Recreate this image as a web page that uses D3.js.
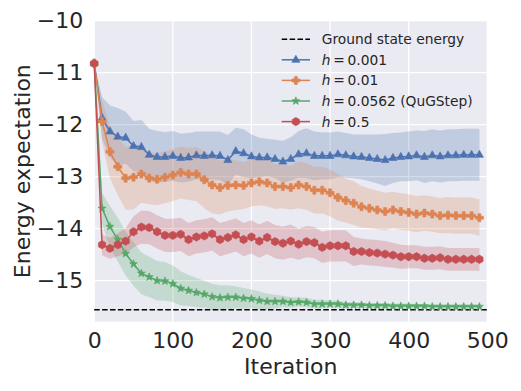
<!DOCTYPE html>
<html>
<head>
<meta charset="utf-8">
<style>
body { margin: 0; background: #fff; }
svg text { font-family: "DejaVu Sans", sans-serif; fill: #262626; }
</style>
</head>
<body>
<svg width="521" height="391"></svg>
<script src="https://d3js.org/d3.v7.min.js"></script>
<script>

// data
var iterations = [0,10,20,30,40,50,60,70,80,90,100,110,120,130,140,150,160,170,180,190,
  200,210,220,230,240,250,260,270,280,290,300,310,320,330,340,350,360,370,380,390,
  400,410,420,430,440,450,460,470,480,490];

var meanH001 = [-10.82,-11.87,-12.13,-12.23,-12.25,-12.41,-12.43,-12.58,-12.62,-12.62,
  -12.60,-12.64,-12.63,-12.59,-12.60,-12.59,-12.60,-12.68,-12.51,-12.55,
  -12.61,-12.63,-12.63,-12.66,-12.71,-12.66,-12.57,-12.55,-12.60,-12.60,
  -12.60,-12.57,-12.59,-12.61,-12.62,-12.64,-12.66,-12.68,-12.64,-12.62,
  -12.61,-12.59,-12.62,-12.59,-12.61,-12.59,-12.59,-12.58,-12.58,-12.58];
var stdH001 = [0,0.40,0.50,0.55,0.50,0.48,0.52,0.50,0.50,0.48,
  0.48,0.47,0.47,0.46,0.47,0.46,0.47,0.48,0.45,0.46,
  0.42,0.38,0.36,0.37,0.40,0.42,0.45,0.48,0.47,0.45,
  0.45,0.44,0.43,0.42,0.43,0.45,0.47,0.50,0.48,0.47,
  0.48,0.48,0.50,0.50,0.50,0.50,0.50,0.50,0.50,0.50];

var meanH01 = [-10.82,-11.94,-12.52,-12.81,-13.03,-13.01,-12.95,-13.03,-13.05,-13.01,
  -12.97,-12.92,-12.95,-12.95,-13.06,-13.16,-13.21,-13.17,-13.16,-13.17,
  -13.12,-13.10,-13.12,-13.19,-13.19,-13.21,-13.16,-13.19,-13.26,-13.26,
  -13.31,-13.40,-13.46,-13.51,-13.58,-13.61,-13.64,-13.67,-13.64,-13.67,
  -13.69,-13.72,-13.70,-13.72,-13.75,-13.74,-13.75,-13.75,-13.75,-13.79];
var stdH01 = [0,0.40,0.50,0.55,0.60,0.62,0.55,0.50,0.50,0.50,
  0.50,0.50,0.50,0.52,0.55,0.55,0.52,0.50,0.48,0.45,
  0.45,0.45,0.45,0.43,0.42,0.42,0.45,0.45,0.45,0.45,
  0.45,0.45,0.42,0.42,0.40,0.38,0.37,0.36,0.35,0.35,
  0.35,0.35,0.34,0.34,0.34,0.35,0.35,0.35,0.35,0.35];

var meanH0562 = [-10.82,-13.61,-13.96,-14.21,-14.48,-14.68,-14.86,-14.93,-15.00,-15.01,
  -15.06,-15.15,-15.19,-15.23,-15.26,-15.31,-15.33,-15.32,-15.32,-15.34,
  -15.35,-15.38,-15.40,-15.40,-15.40,-15.42,-15.41,-15.42,-15.45,-15.45,
  -15.45,-15.45,-15.47,-15.47,-15.47,-15.48,-15.48,-15.48,-15.49,-15.49,
  -15.49,-15.49,-15.49,-15.50,-15.50,-15.50,-15.50,-15.50,-15.50,-15.50];
var stdH0562 = [0,0.30,0.40,0.42,0.42,0.42,0.40,0.39,0.38,0.37,
  0.35,0.33,0.30,0.28,0.26,0.25,0.24,0.23,0.21,0.20,
  0.18,0.17,0.15,0.13,0.11,0.10,0.09,0.09,0.08,0.08,
  0.07,0.07,0.06,0.06,0.05,0.05,0.05,0.05,0.05,0.05,
  0.05,0.04,0.04,0.04,0.04,0.04,0.04,0.04,0.04,0.04];

var meanH5 = [-10.82,-14.31,-14.38,-14.31,-14.24,-14.06,-13.97,-13.98,-14.06,-14.13,
  -14.13,-14.11,-14.21,-14.16,-14.14,-14.10,-14.21,-14.17,-14.12,-14.21,
  -14.16,-14.24,-14.17,-14.25,-14.28,-14.24,-14.30,-14.25,-14.27,-14.36,
  -14.33,-14.33,-14.33,-14.44,-14.44,-14.46,-14.47,-14.49,-14.51,-14.54,
  -14.54,-14.54,-14.57,-14.57,-14.56,-14.59,-14.59,-14.59,-14.59,-14.59];
var stdH5 = [0,0.20,0.20,0.22,0.25,0.30,0.32,0.32,0.32,0.32,
  0.32,0.32,0.32,0.32,0.32,0.32,0.32,0.32,0.32,0.32,
  0.32,0.32,0.32,0.32,0.32,0.32,0.30,0.30,0.30,0.30,
  0.30,0.30,0.30,0.28,0.25,0.25,0.25,0.25,0.24,0.23,
  0.22,0.22,0.22,0.22,0.22,0.22,0.22,0.22,0.22,0.22];

var groundEnergy = -15.56;
var xTicks = [0, 100, 200, 300, 400, 500];
var yTicks = [-10, -11, -12, -13, -14, -15];

var series = [
  {h: "0.001", extra: "", mean: meanH001, std: stdH001, color: "#4C72B0", marker: "tri"},
  {h: "0.01", extra: "", mean: meanH01, std: stdH01, color: "#DD8452", marker: "plus"},
  {h: "0.0562", extra: " (QuGStep)", mean: meanH0562, std: stdH0562, color: "#55A868", marker: "star"},
  {h: "0.5", extra: "", mean: meanH5, std: stdH5, color: "#C44E52", marker: "hex"}
];

var svg = d3.select("svg"),
    margin = {top: 20.7, right: 33.7, bottom: 69.3, left: 94.2},
    width = +svg.attr("width") - margin.left - margin.right,
    height = +svg.attr("height") - margin.top - margin.bottom,
    g = svg.append("g").attr("transform", "translate(" + margin.left + "," + margin.top + ")");

var x = d3.scaleLinear().domain([0, 500]).range([0, width]);
var y = d3.scaleLinear().domain([-15.79, -10]).range([height, 0]);

// marker shapes
function markerPath(type) {
  var pts = [], i, a;
  if (type == "tri") {
    var r = 4.6;
    pts = [[0, -r], [r * 0.87, r * 0.55], [-r * 0.87, r * 0.55]];
  } else if (type == "plus") {
    var o = 4, w = 1.5;
    pts = [[-w,-o],[w,-o],[w,-w],[o,-w],[o,w],[w,w],[w,o],[-w,o],[-w,w],[-o,w],[-o,-w],[-w,-w]];
  } else if (type == "star") {
    for (i = 0; i < 10; i++) {
      a = -Math.PI / 2 + i * Math.PI / 5;
      var rr = i % 2 == 0 ? 4.2 : 1.8;
      pts.push([rr * Math.cos(a), rr * Math.sin(a)]);
    }
  } else {
    for (i = 0; i < 6; i++) {
      a = -Math.PI / 2 + i * Math.PI / 3;
      pts.push([4.2 * Math.cos(a), 4.2 * Math.sin(a)]);
    }
  }
  return "M" + pts.map(function(p) { return p[0].toFixed(2) + "," + p[1].toFixed(2); }).join("L") + "Z";
}

// background + grid
g.append("rect").attr("width", width).attr("height", height).attr("fill", "#EAEAF2");

g.append("g").selectAll("line").data(xTicks).enter().append("line")
    .attr("x1", function(d) { return x(d); }).attr("x2", function(d) { return x(d); })
    .attr("y1", 0).attr("y2", height)
    .attr("stroke", "#fff").attr("stroke-width", 1.3);
g.append("g").selectAll("line").data(yTicks).enter().append("line")
    .attr("y1", function(d) { return y(d); }).attr("y2", function(d) { return y(d); })
    .attr("x1", 0).attr("x2", width)
    .attr("stroke", "#fff").attr("stroke-width", 1.3);

// axes (labels only, no tick marks)
var xAxis = g.append("g")
    .attr("transform", "translate(0," + height + ")")
    .call(d3.axisBottom(x).tickValues(xTicks).tickSize(0).tickPadding(11));
var yAxis = g.append("g")
    .call(d3.axisLeft(y).tickValues(yTicks).tickSize(0).tickPadding(11)
      .tickFormat(function(d) { return "\u2212" + Math.abs(d); }));
[xAxis, yAxis].forEach(function(a) {
  a.select(".domain").remove();
  a.selectAll("text").attr("font-size", 22).attr("font-family", "DejaVu Sans").attr("fill", "#262626");
});

// bands
var area = d3.area()
    .x(function(d, i) { return x(iterations[i]); })
    .y0(function(d) { return y(d[0] - d[1]); })
    .y1(function(d) { return y(d[0] + d[1]); });

series.forEach(function(s) {
  var pts = s.mean.map(function(m, i) { return [m, s.std[i]]; });
  g.append("path").datum(pts)
      .attr("d", area)
      .attr("fill", s.color)
      .attr("fill-opacity", 0.25);
});

// ground state
g.append("line")
    .attr("x1", 0).attr("x2", width)
    .attr("y1", y(groundEnergy)).attr("y2", y(groundEnergy))
    .attr("stroke", "#000").attr("stroke-width", 1.5)
    .attr("stroke-dasharray", "5.5,2.4");

// lines + markers
var line = d3.line()
    .x(function(d, i) { return x(iterations[i]); })
    .y(function(d) { return y(d); });

series.forEach(function(s) {
  g.append("path").datum(s.mean)
      .attr("d", line)
      .attr("fill", "none")
      .attr("stroke", s.color)
      .attr("stroke-width", 1.5);
  g.append("g").selectAll("path").data(s.mean).enter().append("path")
      .attr("transform", function(d, i) { return "translate(" + x(iterations[i]) + "," + y(d) + ")"; })
      .attr("d", markerPath(s.marker))
      .attr("fill", s.color)
      .attr("stroke", s.color)
      .attr("stroke-width", 0.6);
});

// legend
var legend = svg.append("g").attr("font-size", 13.8);
var lx0 = 281.7, lx1 = 310, ltx = 321.7, ly0 = 39.2, ldy = 20.6;

legend.append("line")
    .attr("x1", lx0).attr("x2", lx1).attr("y1", ly0).attr("y2", ly0)
    .attr("stroke", "#000").attr("stroke-width", 1.5)
    .attr("stroke-dasharray", "5.5,2.4");
legend.append("text")
    .attr("x", ltx).attr("y", ly0).attr("dy", "0.36em")
    .text("Ground state energy");

series.forEach(function(s, i) {
  var yy = ly0 + (i + 1) * ldy;
  legend.append("line")
      .attr("x1", lx0).attr("x2", lx1).attr("y1", yy).attr("y2", yy)
      .attr("stroke", s.color).attr("stroke-width", 1.5);
  legend.append("path")
      .attr("transform", "translate(" + ((lx0 + lx1) / 2) + "," + yy + ")")
      .attr("d", markerPath(s.marker))
      .attr("fill", s.color).attr("stroke", s.color).attr("stroke-width", 0.6);
  var t = legend.append("text").attr("x", ltx).attr("y", yy).attr("dy", "0.36em");
  t.append("tspan").attr("font-style", "italic").text("h");
  t.append("tspan").text("\u2009=\u2009" + s.h + s.extra);
});

// axis titles
svg.append("text")
    .attr("x", margin.left + width / 2).attr("y", 374)
    .attr("text-anchor", "middle").attr("font-size", 22)
    .text("Iteration");
svg.append("text")
    .attr("transform", "translate(29.5," + (margin.top + height / 2) + ") rotate(-90)")
    .attr("text-anchor", "middle").attr("font-size", 22)
    .text("Energy expectation");

</script>
</body>
</html>
